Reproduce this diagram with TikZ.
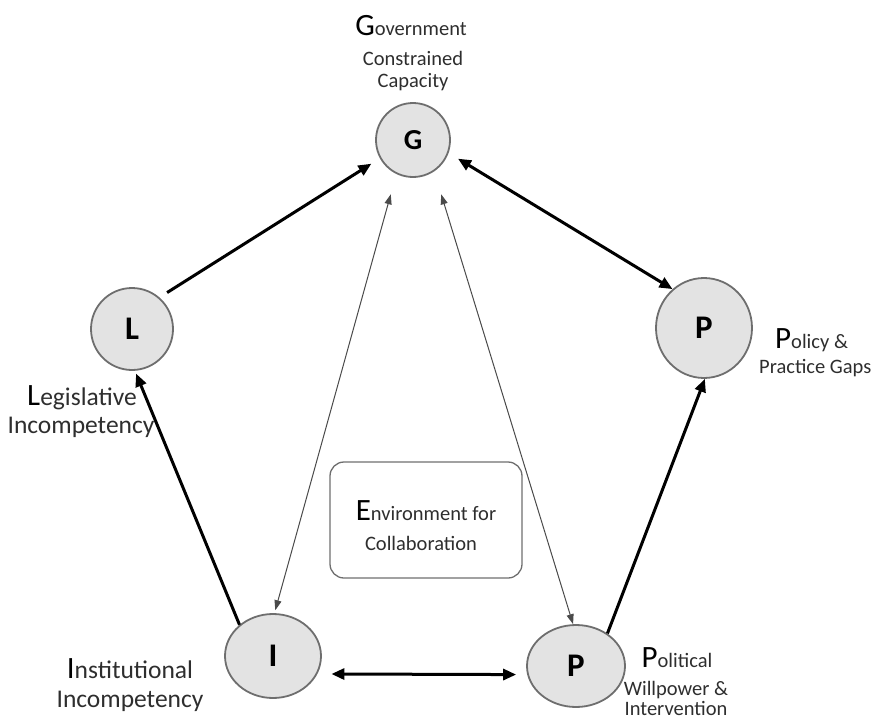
\documentclass[tikz,border=0pt]{standalone}
\usepackage{fontspec}
\setmainfont{Carlito}
\usetikzlibrary{arrows.meta,shapes.geometric}
\definecolor{circfill}{HTML}{E3E3E3}
\definecolor{circline}{HTML}{6E6E6E}
\definecolor{txtgray}{HTML}{2E2E2E}
\definecolor{thingray}{HTML}{4A4A4A}
\newcommand{\ini}[1]{{\fontsize{31}{31}\selectfont\color{black}#1}}
\begin{document}
\begin{tikzpicture}[x=1pt,y=-1pt,
  circnode/.style={ellipse, draw=circline, line width=1.8pt, fill=circfill, inner sep=0pt,
    font=\fontsize{33}{33}\selectfont\bfseries, text=black},
  lbl/.style={anchor=base, inner sep=0pt, text=txtgray, font=\fontsize{20.5}{24}\selectfont},
  lblbig/.style={anchor=base, inner sep=0pt, text=txtgray, font=\fontsize{25.5}{28}\selectfont},
  thickarr/.style={line width=3pt, draw=black, -{Triangle[length=13pt,width=11pt]}},
  thickboth/.style={line width=3pt, draw=black, {Triangle[length=13pt,width=11pt]}-{Triangle[length=13pt,width=11pt]}},
  thinboth/.style={line width=1pt, draw=thingray, {Triangle[length=10pt,width=7pt]}-{Triangle[length=10pt,width=7pt]}},
  envbox/.style={draw=circline, line width=1.3pt, rounded corners=14pt, minimum width=192pt, minimum height=116pt, inner sep=0pt}
]
\useasboundingbox (0,0) rectangle (871,720);

% nodes
\node[circnode, minimum width=74pt, minimum height=74pt, font=\fontsize{29}{29}\selectfont\bfseries] (G) at (413,140) {G};
\node[circnode, minimum width=96pt, minimum height=100pt] (Pr) at (704,328) {P};
\node[circnode, minimum width=82pt, minimum height=82pt] (L) at (132,329) {L};
\node[circnode, minimum width=96pt, minimum height=84pt] (I) at (273,656) {I};
\node[circnode, minimum width=98pt, minimum height=82pt] (Pb) at (576,666) {P};
\node[envbox] (env) at (426,520) {};

% labels
\node[lbl] (gov1) at (411,35) {\ini{G}overnment};
\node[lbl] (gov2) at (413,65) {Constrained};
\node[lbl] (gov3) at (413,87) {Capacity};

\node[lbl, anchor=base west] (pol1) at (775,348) {\ini{P}olicy \&};
\node[lbl, anchor=base west] (pol2) at (759,373) {Practice Gaps};

\node[lblbig] (leg1) at (82,405) {\ini{L}egislative};
\node[lblbig] (leg2) at (81,433) {Incompetency};

\node[lblbig] (ins1) at (130,678) {\ini{I}nstitutional};
\node[lblbig] (ins2) at (130,707) {Incompetency};

\node[lbl] (polt1) at (677,667) {\ini{P}olitical};
\node[lbl] (polt2) at (676,695) {Willpower \&};
\node[lbl] (polt3) at (676,715) {Intervention};

\node[lbl] (env1) at (426,520) {\ini{E}nvironment for};
\node[lbl] (env2) at (421,550) {Collaboration};

% connectors
\draw[thickarr, shorten <=9pt, shorten >=10pt] (L.49) -- (G.209);
\draw[thickboth, shorten <=11pt] (G.340) -- (Pr.129);
\draw[thickarr] (Pb.46) -- (Pr.271);
\draw[thickarr, shorten >=3pt] (I.137) -- (L.274);
\draw[thickboth, shorten <=14pt, shorten >=11pt] (I.-22) -- (Pb.190);
\draw[thinboth, shorten <=21pt, shorten >=3pt] (G.244) -- (I.88);
\draw[thinboth, shorten <=24pt] (G.304) -- (Pb.94);
\end{tikzpicture}
\end{document}
